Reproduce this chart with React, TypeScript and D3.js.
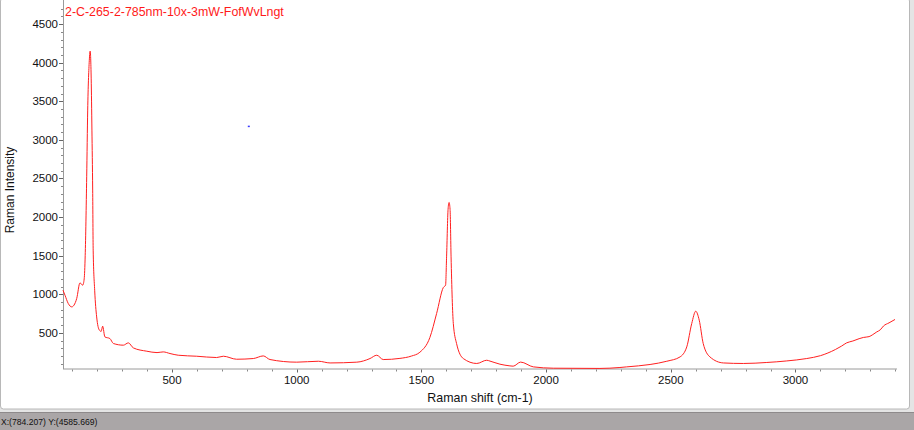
import * as d3 from "d3";

const W = 914;
const H = 430;

// Raman spectrum (shift in cm-1, intensity)
const shift = [
  63, 71, 84, 98, 107, 118, 131, 142, 148, 152, 158, 162, 168, 172, 176, 179, 182, 184, 190, 198,
  209, 216, 222, 231, 251, 265, 305, 325, 345, 399, 440, 465, 492, 525, 599, 679, 706, 759, 826, 866,
  893, 1000, 1087, 1134, 1241, 1294, 1321, 1347, 1414, 1460, 1494, 1534, 1561, 1588, 1597, 1601, 1607,
  1611, 1615, 1619, 1628, 1641, 1668, 1722, 1762, 1775, 1815, 1855, 1868, 1898, 1949, 2029, 2216, 2296,
  2323, 2417, 2484, 2537, 2564, 2584, 2600, 2614, 2630, 2657, 2711, 2791, 2885, 2965, 3045, 3100, 3130,
  3160, 3185, 3205, 3230, 3255, 3272, 3295, 3310, 3326, 3340, 3353, 3375, 3399,
];
const intensity = [
  1053, 988, 881, 837, 859, 946, 1148, 1118, 1200, 1500, 2522, 3386, 4000, 4150, 3800, 3127, 2350, 1572, 1053, 707,
  535, 520, 587, 448, 427, 363, 341, 371, 306, 263, 245, 254, 233, 211, 198, 181, 198, 159, 168, 202,
  155, 121, 133, 111, 121, 168, 211, 155, 170, 200, 250, 440, 751, 1088, 1118, 1485, 2100,
  2190, 2100, 1485, 622, 363, 168, 104, 146, 135, 95, 73, 69, 122, 60, 43, 40, 52,
  60, 91, 133, 189, 319, 622, 781, 665, 363, 189, 111, 104, 117, 137, 168, 205, 240,
  285, 330, 371, 395, 425, 441, 452, 478, 513, 540, 590, 630, 674,
];

const yMajor = [500, 1000, 1500, 2000, 2500, 3000, 3500, 4000, 4500];
const xMajor = [500, 1000, 1500, 2000, 2500, 3000];

const title = "2-C-265-2-785nm-10x-3mW-FofWvLngt";
const xLabel = "Raman shift (cm-1)";
const yLabel = "Raman Intensity";
const status = "X:(784.207) Y:(4585.669)";
const cursor = [808, 3178];

const plot = { left: 63, right: 897, top: 4, bottom: 368.5 };

const x = d3.scaleLinear().domain([63, 3407]).range([plot.left, plot.right]);
const y = d3.scaleLinear().domain([39, 4760]).range([plot.bottom, plot.top]);

const points = shift.map((s, i) => [s, intensity[i]] as [number, number]);
const line = d3
  .line<[number, number]>()
  .x((d) => x(d[0]))
  .y((d) => y(d[1]))
  .curve(d3.curveMonotoneX);

const yMinor = d3.range(100, 4760, 100).filter((v) => v % 500 !== 0 && v > 39);
const xMinor = d3.range(100, 3407, 100).filter((v) => v % 500 !== 0 && v > 63);

const font = "'Liberation Sans', Arial, sans-serif";

export default function App() {
  return (
    <div style={{ position: "absolute", left: 0, top: 0, width: W, height: H }}>
      <svg width={W} height={H} style={{ display: "block" }} fontFamily={font}>
        <rect x={0} y={0} width={W} height={H} fill="#e4e4e4" />
        <rect x={0.5} y={-2} width={909} height={411} rx={3} fill="#fff" stroke="#b8b8b8" />
        <rect x={0} y={412} width={W} height={18} fill="#aaa6a7" />
        <line x1={0} x2={W} y1={412.5} y2={412.5} stroke="#8e8a8b" />
        <text x={1} y={425} fontSize={8.6} fill="#111">
          {status}
        </text>

        {/* axes */}
        <line x1={plot.left + 0.5} x2={plot.left + 0.5} y1={0} y2={plot.bottom + 0.5} stroke="#9a9a9a" />
        <line x1={plot.left} x2={plot.right} y1={plot.bottom + 0.5} y2={plot.bottom + 0.5} stroke="#9a9a9a" />

        {yMinor.map((v) => (
          <line key={"ym" + v} x1={plot.left - 2} x2={plot.left} y1={Math.round(y(v)) + 0.5} y2={Math.round(y(v)) + 0.5} stroke="#888" />
        ))}
        {yMajor.map((v) => (
          <g key={"y" + v}>
            <line x1={plot.left - 4} x2={plot.left} y1={Math.round(y(v)) + 0.5} y2={Math.round(y(v)) + 0.5} stroke="#666" />
            <text x={58} y={y(v) + 4} fontSize={11.5} textAnchor="end" fill="#111">
              {v}
            </text>
          </g>
        ))}
        {xMinor.map((v) => (
          <line key={"xm" + v} x1={Math.round(x(v)) + 0.5} x2={Math.round(x(v)) + 0.5} y1={plot.bottom + 1} y2={plot.bottom + 3} stroke="#888" />
        ))}
        {xMajor.map((v) => (
          <g key={"x" + v}>
            <line x1={Math.round(x(v)) + 0.5} x2={Math.round(x(v)) + 0.5} y1={plot.bottom + 1} y2={plot.bottom + 4} stroke="#666" />
            <text x={x(v)} y={384} fontSize={11.5} textAnchor="middle" fill="#111">
              {v}
            </text>
          </g>
        ))}

        <text x={480} y={402} fontSize={12.4} textAnchor="middle" fill="#111">
          {xLabel}
        </text>
        <text transform="translate(14,190) rotate(-90)" fontSize={12} textAnchor="middle" fill="#111">
          {yLabel}
        </text>

        <path d={line(points) ?? ""} fill="none" stroke="#ff2020" strokeWidth={1} />
        <rect x={x(cursor[0]) - 1} y={y(cursor[1]) - 0.5} width={2} height={1.5} fill="#3b3bff" />

        <text x={65} y={16} fontSize={12.4} fill="#ff1a1a">
          {title}
        </text>
      </svg>
    </div>
  );
}
